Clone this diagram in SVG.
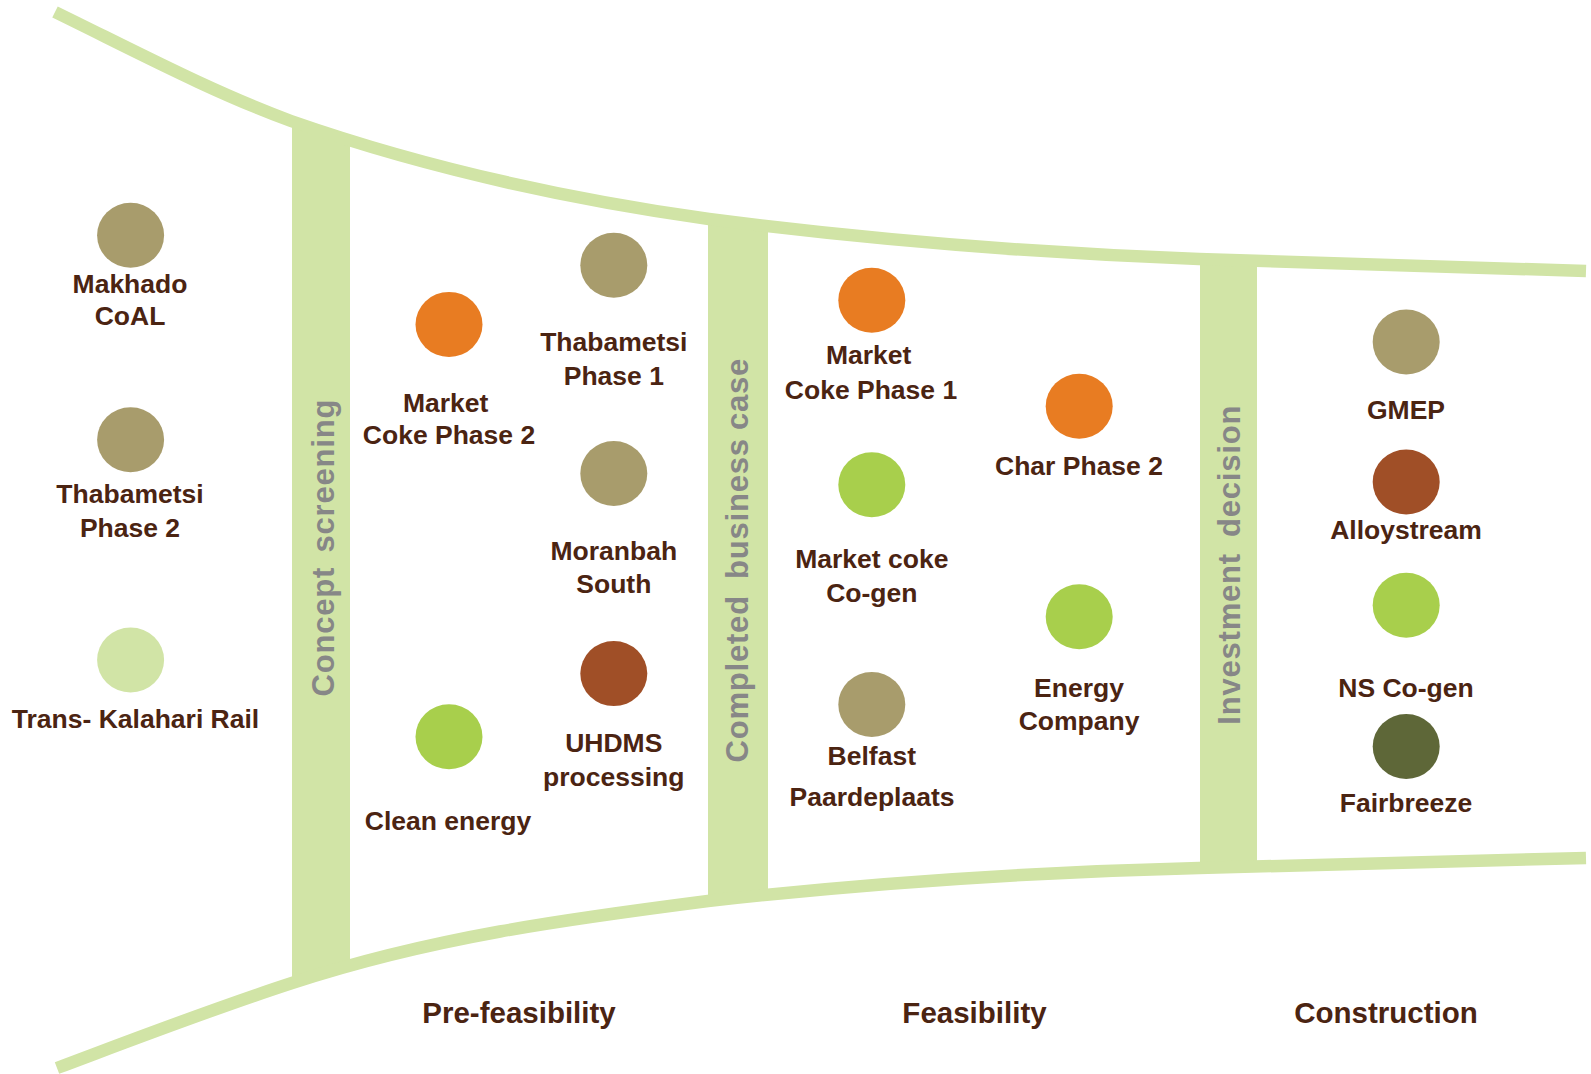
<svg xmlns="http://www.w3.org/2000/svg" width="1591" height="1074" viewBox="0 0 1591 1074">
<style>
.band{fill:none;stroke:#d1e4a6;stroke-width:12.5;stroke-linecap:butt;stroke-linejoin:round}
.bar{fill:#d1e4a6}
.gate{font-family:"Liberation Sans",Arial,sans-serif;font-weight:bold;font-size:31px;letter-spacing:0.8px;fill:#878787}
.lbl{font-family:"Liberation Sans",Arial,sans-serif;font-weight:bold;font-size:26.5px;fill:#4b2412;text-anchor:middle}
.stage{font-family:"Liberation Sans",Arial,sans-serif;font-weight:bold;font-size:29.5px;fill:#4b2412;text-anchor:middle}
.tan{fill:#a89c6c}
.orange{fill:#e87c22}
.lime{fill:#a8cf4c}
.rust{fill:#a04f27}
.pale{fill:#d1e4a6}
.olive{fill:#5e6738}
</style>
<rect width="1591" height="1074" fill="#ffffff"/>
<g id="funnel">
  <polygon class="bar" points="292,121 350,139 350,966 292,983"/>
  <polygon class="bar" points="708,219 768,226 768,895 708,901"/>
  <polygon class="bar" points="1200,259 1257,261 1257,866.5 1200,868"/>
  <path class="band" d="M55,12 C135,51 212,92 291,121 C420,166 560,198 709,219 Q950,250 1199,259 L1586,271"/>
  <path class="band" d="M57,1068 C137,1038 212,1009 292,983 C432,937 568,919 708,901 Q950,874 1199,868 L1586,858"/>
</g>
<g id="gates">
  <text class="gate" transform="translate(333.5,696.5) rotate(-90)"><tspan x="0">Concept </tspan><tspan x="144">screening</tspan></text>
  <text class="gate" transform="translate(748,762.5) rotate(-90)"><tspan x="0">Completed </tspan><tspan x="183.5">business </tspan><tspan x="332.5">case</tspan></text>
  <text class="gate" transform="translate(1240,724.7) rotate(-90)"><tspan x="0">Investment </tspan><tspan x="187.7">decision</tspan></text>
</g>
<g id="node-makhado"><ellipse class="tan" cx="130.6" cy="235.2" rx="33.5" ry="32.5"/><text class="lbl" x="130" y="292.7">Makhado</text><text class="lbl" x="130" y="325.4">CoAL</text></g>
<g id="node-thabametsi2"><ellipse class="tan" cx="130.6" cy="439.7" rx="33.5" ry="32.5"/><text class="lbl" x="130" y="502.7">Thabametsi</text><text class="lbl" x="130" y="537">Phase 2</text></g>
<g id="node-transkalahari"><ellipse class="pale" cx="130.6" cy="660" rx="33.5" ry="32.5"/><text class="lbl" x="135.5" y="727.8">Trans- Kalahari Rail</text></g>
<g id="node-marketcoke2"><ellipse class="orange" cx="449" cy="324.4" rx="33.5" ry="32.5"/><text class="lbl" x="445.6" y="411.5">Market</text><text class="lbl" x="449" y="444">Coke Phase 2</text></g>
<g id="node-cleanenergy"><ellipse class="lime" cx="449" cy="736.8" rx="33.5" ry="32.5"/><text class="lbl" x="448" y="830">Clean energy</text></g>
<g id="node-thabametsi1"><ellipse class="tan" cx="613.8" cy="265.2" rx="33.5" ry="32.5"/><text class="lbl" x="613.8" y="351.2">Thabametsi</text><text class="lbl" x="613.8" y="385">Phase 1</text></g>
<g id="node-moranbah"><ellipse class="tan" cx="613.8" cy="473.5" rx="33.5" ry="32.5"/><text class="lbl" x="613.8" y="559.5">Moranbah</text><text class="lbl" x="613.8" y="592.5">South</text></g>
<g id="node-uhdms"><ellipse class="rust" cx="613.8" cy="673.6" rx="33.5" ry="32.5"/><text class="lbl" x="613.8" y="752">UHDMS</text><text class="lbl" x="613.8" y="786">processing</text></g>
<g id="node-marketcoke1"><ellipse class="orange" cx="871.8" cy="300.3" rx="33.5" ry="32.5"/><text class="lbl" x="868.6" y="364.3">Market</text><text class="lbl" x="871" y="398.8">Coke Phase 1</text></g>
<g id="node-cogen"><ellipse class="lime" cx="871.8" cy="484.8" rx="33.5" ry="32.5"/><text class="lbl" x="871.8" y="568.2">Market coke</text><text class="lbl" x="871.8" y="602.2">Co-gen</text></g>
<g id="node-belfast"><ellipse class="tan" cx="871.8" cy="704.5" rx="33.5" ry="32.5"/><text class="lbl" x="871.8" y="765.3">Belfast</text><text class="lbl" x="872" y="805.8">Paardeplaats</text></g>
<g id="node-charphase2"><ellipse class="orange" cx="1079.2" cy="406.3" rx="33.5" ry="32.5"/><text class="lbl" x="1079" y="475.2">Char Phase 2</text></g>
<g id="node-energyco"><ellipse class="lime" cx="1079.2" cy="616.7" rx="33.5" ry="32.5"/><text class="lbl" x="1079" y="696.5">Energy</text><text class="lbl" x="1079" y="729.5">Company</text></g>
<g id="node-gmep"><ellipse class="tan" cx="1406.2" cy="342" rx="33.5" ry="32.5"/><text class="lbl" x="1406" y="419.4">GMEP</text></g>
<g id="node-alloystream"><ellipse class="rust" cx="1406.2" cy="482" rx="33.5" ry="32.5"/><text class="lbl" x="1406" y="539">Alloystream</text></g>
<g id="node-nscogen"><ellipse class="lime" cx="1406.2" cy="605.3" rx="33.5" ry="32.5"/><text class="lbl" x="1406" y="697.2">NS Co-gen</text></g>
<g id="node-fairbreeze"><ellipse class="olive" cx="1406.2" cy="746.5" rx="33.5" ry="32.5"/><text class="lbl" x="1406" y="811.7">Fairbreeze</text></g>
<g id="stages">
  <text class="stage" x="519" y="1023.4">Pre-feasibility</text>
  <text class="stage" x="974.5" y="1023.4">Feasibility</text>
  <text class="stage" x="1386" y="1023.4">Construction</text>
</g>
</svg>
